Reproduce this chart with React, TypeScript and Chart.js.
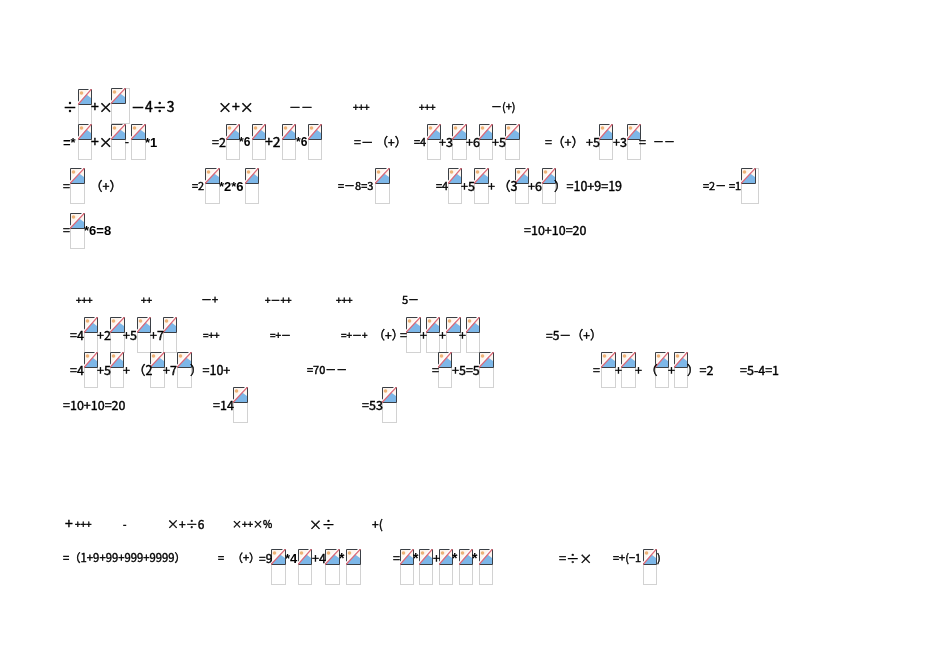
import React, { useEffect, useRef } from 'react';
import Chart from 'chart.js/auto';

// picture placeholders, page coordinates
const iconLeft = [78, 111, 78, 111, 131, 226, 252, 282, 308, 427, 452, 479, 505, 599, 627, 70, 205, 245, 375, 448, 474, 515, 542, 741, 70, 84, 110, 137, 163, 406, 426, 446, 466, 84, 110, 150, 177, 438, 479, 601, 621, 655, 674, 233, 382, 271, 298, 325, 346, 400, 419, 439, 459, 479, 643];
const iconTop = [89, 88, 124, 124, 124, 124, 124, 124, 124, 124, 124, 124, 124, 124, 124, 168, 168, 168, 168, 168, 168, 168, 168, 168, 213, 317, 317, 317, 317, 317, 317, 317, 317, 352, 352, 352, 352, 352, 352, 352, 352, 352, 352, 387, 387, 549, 549, 549, 549, 549, 549, 549, 549, 549, 549];
const iconWidth = [13, 18, 13, 14, 14, 13, 13, 13, 13, 13, 14, 13, 14, 13, 13, 14, 14, 13, 14, 13, 14, 13, 13, 17, 14, 13, 14, 13, 13, 14, 13, 14, 13, 13, 13, 14, 14, 13, 14, 14, 14, 13, 13, 14, 14, 14, 13, 14, 14, 13, 13, 13, 13, 13, 13];

// text fragments
const textLabel = ['÷', '+×', '－4÷3', '×+×', '－－', '+++', '+++', '－(+)',
  '=*', '+×', '-', '*1', '=2', '*6', '+2', '*6', '=－', '（+）', '=4', '+3', '+6', '+5', '=（+）', '+5', '+3', '=', '－－',
  '=', '（+）', '=2', '*2*6', '=－8=3', '=4', '+5', '+', '（3', '+6', '）=10+9=19', '=2－', '=1',
  '=', '*6=8', '=10+10=20',
  '+++', '++', '－+', '+－++', '+++', '5－',
  '=4', '+2', '+5', '+7', '=++', '=+－', '=+－+', '（+）', '=', '+', '+', '+', '=5－（+）',
  '=4', '+5', '+', '（2', '+7', '）=10+', '=70－－', '=', '+5=5', '=', '+', '+', '（', '+', '）=2', '=5-4=1',
  '=10+10=20', '=14', '=53',
  '+', '+++', '-', '×+÷6', '×++×%', '×÷', '+(',
  '=（1+9+99+999+9999）', '=', '（+）', '=9', '*4', '+4', '*', '=', '*', '+', '*', '*', '=÷×', '=+(−1', ')'];
const textX = [63, 91, 131, 218, 289, 353, 419, 491,
  63, 91, 125, 145, 212, 239, 265, 296, 354, 376, 414, 439, 466, 492, 545, 586, 613, 639, 653,
  63, 90, 192, 219, 338, 436, 461, 488, 498, 528, 554, 703, 729,
  63, 84, 524,
  76, 141, 201, 265, 336, 402,
  70, 97, 123, 150, 203, 270, 341, 373, 400, 420, 439, 459, 546,
  70, 97, 123, 133, 163, 190, 307, 432, 452, 593, 615, 635, 645, 668, 687, 740,
  63, 213, 362,
  65, 75, 123, 167, 232, 309, 372,
  63, 218, 232, 259, 285, 312, 339, 393, 413, 433, 452, 472, 559, 613, 657];
const textY = [107, 107, 107, 107, 107, 107, 107, 107,
  142, 142, 142, 142, 142, 142, 142, 142, 142, 142, 142, 142, 142, 142, 142, 142, 142, 142, 142,
  186, 186, 186, 186, 186, 186, 186, 186, 186, 186, 186, 186, 186,
  230, 230, 230,
  300, 300, 300, 300, 300, 300,
  335, 335, 335, 335, 335, 335, 335, 335, 335, 335, 335, 335, 335,
  370, 370, 370, 370, 370, 370, 370, 370, 370, 370, 370, 370, 370, 370, 370, 370,
  405, 405, 405,
  524, 524, 524, 524, 524, 524, 524,
  558, 558, 558, 558, 558, 558, 558, 558, 558, 558, 558, 558, 558, 558, 558];
const textSize = [14, 14, 14, 14, 12, 10, 10, 11,
  13, 14, 11, 13, 12.5, 12, 14, 12, 12.5, 12, 11, 12.5, 12.5, 12.5, 12.5, 12.5, 12.5, 12.5, 11,
  12.5, 12.5, 11, 13, 11, 11, 12.5, 12.5, 12.5, 12.5, 12.5, 11, 11,
  12.5, 13, 12.5,
  10, 10, 11, 10, 10, 11,
  12.5, 12.5, 12.5, 12.5, 10, 10, 10, 12, 12.5, 12.5, 12.5, 12.5, 12,
  12.5, 12.5, 12.5, 12.5, 12.5, 12.5, 11, 12.5, 12.5, 12.5, 12.5, 12.5, 12.5, 12.5, 12.5, 12.5,
  12.5, 12.5, 12.5,
  14, 10, 10, 12, 10, 13, 12,
  11.3, 11, 11, 12, 13, 12.5, 14, 12.5, 14, 12.5, 14, 14, 13, 11, 11];

const ICON_HEIGHT = 35;

function makeIcon(w: number) {
  const c = document.createElement('canvas');
  c.width = w + 1;
  c.height = ICON_HEIGHT + 1;
  const g = c.getContext('2d')!;
  const iw = Math.min(w, 14);
  const ih = 15;
  g.strokeStyle = '#d2d2d2';
  g.lineWidth = 1;
  g.strokeRect(0.5, 0.5, w, ICON_HEIGHT);
  g.fillStyle = '#fdf6f0';
  g.fillRect(0, 0, iw, ih);
  g.fillStyle = '#eeb277';
  g.beginPath();
  g.arc(3.5, 4, 1.8, 0, Math.PI * 2);
  g.fill();
  g.fillStyle = '#7db7e8';
  g.beginPath();
  g.moveTo(1, ih);
  g.lineTo(iw * 0.6, 5);
  g.lineTo(iw, 9);
  g.lineTo(iw, ih);
  g.closePath();
  g.fill();
  g.strokeStyle = '#3a3f45';
  g.beginPath();
  g.moveTo(0.5, ih + 0.5);
  g.lineTo(0.5, 0.5);
  g.lineTo(iw + 0.5, 0.5);
  g.lineTo(iw + 0.5, ih + 0.5);
  g.lineTo(0.5, ih + 0.5);
  g.stroke();
  g.strokeStyle = '#ffffff';
  g.lineWidth = 1.6;
  g.beginPath();
  g.moveTo(0, ih - 1);
  g.lineTo(iw - 1, 0);
  g.stroke();
  g.strokeStyle = '#dc6a78';
  g.lineWidth = 1.2;
  g.beginPath();
  g.moveTo(0, ih + 0.5);
  g.lineTo(iw + 0.5, 0);
  g.stroke();
  return c;
}

const textPlugin = {
  id: 'fragments',
  afterDatasetsDraw(chart: any) {
    const { ctx, scales } = chart;
    const points = chart.data.datasets[1].data;
    ctx.save();
    ctx.fillStyle = '#000000';
    ctx.strokeStyle = '#000000';
    ctx.lineWidth = 0.4;
    ctx.textAlign = 'left';
    ctx.textBaseline = 'middle';
    textLabel.forEach((t, i) => {
      const x = scales.x.getPixelForValue(points[i].x);
      const y = scales.y.getPixelForValue(points[i].y);
      // the asterisks are much heavier in the reference
      if (t.includes('*')) {
        ctx.font = `bold ${textSize[i]}px "Liberation Sans"`;
        ctx.fillText(t, x, y + 1);
        return;
      }
      ctx.font = `${textSize[i]}px "Noto Sans CJK SC"`;
      ctx.fillText(t, x, y);
      ctx.strokeText(t, x, y);
    });
    ctx.restore();
  },
};

const App: React.FC = () => {
  const chartRef = useRef<HTMLCanvasElement>(null);

  useEffect(() => {
    document.body.style.margin = '0';
    if (!chartRef.current) return;
    const sprites: Record<number, HTMLCanvasElement> = {};
    iconWidth.forEach(w => {
      if (!sprites[w]) sprites[w] = makeIcon(w);
    });
    const chart = new Chart(chartRef.current, {
      type: 'scatter',
      data: {
        datasets: [
          {
            data: iconLeft.map((x, i) => ({
              x: x + (iconWidth[i] + 1) / 2,
              y: iconTop[i] + (ICON_HEIGHT + 1) / 2,
            })),
            pointStyle: iconWidth.map(w => sprites[w]) as any,
          },
          {
            data: textX.map((x, i) => ({ x, y: textY[i] })),
            pointRadius: 0,
          },
        ],
      },
      options: {
        animation: false,
        responsive: false,
        layout: { padding: 0, autoPadding: false },
        plugins: { legend: { display: false }, tooltip: { enabled: false } },
        scales: {
          x: { type: 'linear', display: false, min: 0, max: 950 },
          y: { type: 'linear', display: false, min: 0, max: 672, reverse: true },
        },
      },
      plugins: [textPlugin],
    });
    return () => chart.destroy();
  }, []);

  return <canvas ref={chartRef} width={950} height={672} style={{ display: 'block', background: '#ffffff' }} />;
};

export default App;
